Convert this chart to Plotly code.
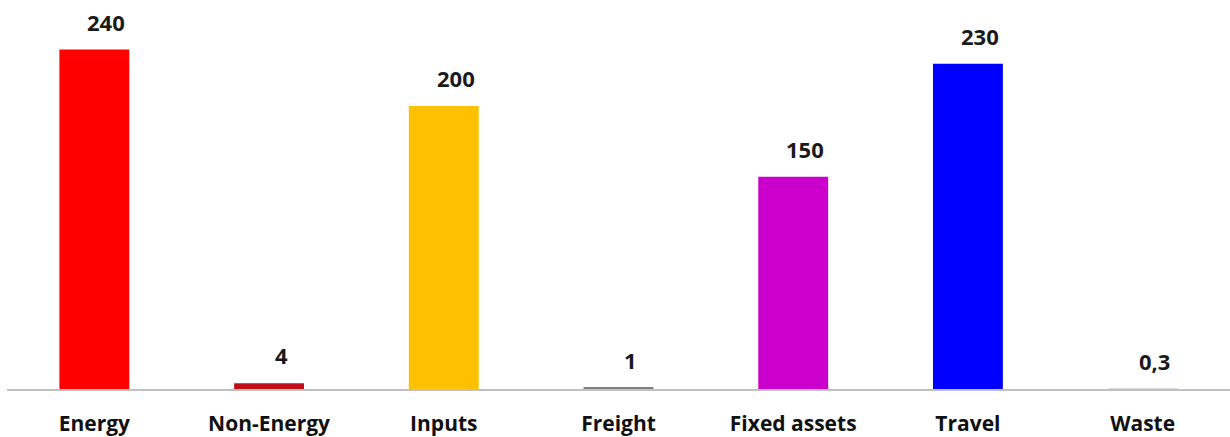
import plotly.graph_objects as go

categories = ["Energy", "Non-Energy", "Inputs", "Freight", "Fixed assets", "Travel", "Waste"]
values = [240, 4, 200, 1, 150, 230, 0.3]
value_labels = ["240", "4", "200", "1", "150", "230", "0,3"]
colors = ["#ff0000", "#c00d1a", "#ffc000", "#808080", "#cc00cc", "#0000ff", "#d9d9d9"]

fig = go.Figure()
fig.add_trace(go.Bar(
    x=categories, y=values,
    marker=dict(color=colors, line=dict(width=0)),
    hoverinfo="x+y",
))

for c, v, t in zip(categories, values, value_labels):
    fig.add_annotation(
        x=c, y=v, text=t, showarrow=False,
        xanchor="center", yanchor="bottom", xshift=12, yshift=11,
        font=dict(family="Open Sans", size=22, color="#1a1a1a", weight="bold"),
    )

fig.update_layout(
    width=1230, height=437,
    margin=dict(l=7, r=0, t=0, b=48),
    paper_bgcolor="white", plot_bgcolor="white",
    bargap=0.6,
    showlegend=False,
    xaxis=dict(
        showline=True, linecolor="#c0c0c0", linewidth=2,
        showgrid=False, zeroline=False, ticks="",
        automargin=False,
        ticklabelstandoff=15,
        tickfont=dict(family="Open Sans", size=21, color="#111111", weight="bold"),
    ),
    yaxis=dict(
        range=[0, 275], visible=False, showgrid=False, zeroline=False,
        automargin=False,
    ),
)

fig.write_html("out.html")
